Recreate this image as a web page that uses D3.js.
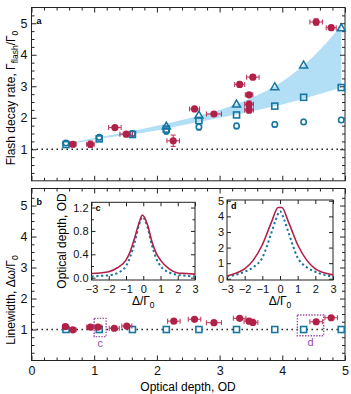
<!DOCTYPE html>
<html>
<head>
<meta charset="utf-8">
<script src="https://cdn.jsdelivr.net/npm/d3@7"></script>
<style>
  body { margin: 0; background: #fff; }
  svg { font-family: "Liberation Sans", Arial, sans-serif; }
</style>
</head>
<body>
<script>
const w = 351;
const h = 394;

const red = "rgb(178, 32, 72)";
const blue = "rgb(22, 118, 160)";
const band = "rgb(178, 222, 246)";
const purple = "rgb(150, 72, 165)";

// panel a: flash decay rate
const blueOD = [0.55, 1.08, 1.61, 2.15, 2.67, 3.27, 3.88, 4.34, 4.94];
const blueTri = [null, null, null, 1.74, 2.09, 2.44, 2.99, 3.68, 4.86];
const blueSq = [1.15, 1.33, 1.47, 1.64, 1.91, 2.09, 2.37, 2.65, 2.96];
const blueCirc = [1.2, 1.38, 1.5, 1.58, 1.71, 1.74, 1.79, 1.87, 1.93];
const blueCircErr = [0.06, 0.08, 0.08, 0.1, 0.1, 0.09, 0.08, 0.08, 0.08];

const redOD = [0.66, 0.94, 1.33, 1.51, 2.26, 2.6, 2.91, 3.32, 3.53, 3.47, 3.47, 3.47, 4.54, 4.78];
const redRate = [1.16, 1.16, 1.69, 1.48, 1.27, 2.28, 2.12, 3.06, 3.29, 2.73, 2.43, 2.25, 5.04, 4.86];
const redXErr = [0.05, 0.06, 0.1, 0.1, 0.1, 0.08, 0.12, 0.08, 0.1, 0.06, 0.07, 0.07, 0.1, 0.08];
const redYErr = [0.08, 0.1, 0.05, 0.05, 0.18, 0.08, 0.05, 0.08, 0.07, 0.05, 0.1, 0.1, 0.1, 0.04];

const bandOD = [0.55, 1.0, 1.5, 2.0, 2.5, 3.0, 3.5, 4.0, 4.5, 4.94];
const bandLow = [1.14, 1.3, 1.45, 1.6, 1.8, 2.0, 2.2, 2.42, 2.7, 2.95];
const bandHigh = [1.19, 1.36, 1.54, 1.75, 1.98, 2.25, 2.62, 3.15, 3.95, 4.92];

// panel b: linewidth
const lwBlue = [1, 1, 1, 1, 1, 1, 1, 1, 1];
const lwRedOD = [0.54, 0.66, 0.94, 1.06, 1.32, 1.52, 2.27, 2.6, 2.91, 3.32, 3.47, 3.53, 4.54, 4.78];
const lwRed = [1.09, 0.99, 1.08, 1.08, 1.04, 1.11, 1.27, 1.33, 1.22, 1.36, 1.27, 1.23, 1.25, 1.38];
const lwRedXErr = [0.04, 0.05, 0.06, 0.06, 0.08, 0.08, 0.1, 0.1, 0.12, 0.1, 0.08, 0.08, 0.1, 0.1];

// insets c and d
const cDelta = [-3, -2.5, -2, -1.5, -1, -0.75, -0.5, -0.25, -0.05, 0.25, 0.5, 0.75, 1, 1.5, 2, 2.5, 3];
const cMeasured = [0.07, 0.08, 0.1, 0.17, 0.3, 0.45, 0.68, 0.93, 1.07, 0.9, 0.62, 0.42, 0.3, 0.15, 0.08, 0.07, 0.06];
const cModel = [0.02, 0.03, 0.04, 0.08, 0.2, 0.36, 0.6, 0.9, 1.04, 0.86, 0.56, 0.33, 0.2, 0.09, 0.05, 0.03, 0.02];
const dDelta = [-3, -2.5, -2, -1.5, -1, -0.5, -0.1, 0.1, 0.5, 1, 1.5, 2, 2.5, 3];
const dMeasured = [0.18, 0.35, 0.63, 1.21, 2.18, 3.58, 4.57, 4.57, 3.58, 2.18, 1.21, 0.63, 0.38, 0.25];
const dModelDelta = [-3, -2.5, -2, -1.5, -1, -0.5, -0.25, 0, 0.25, 0.5, 1, 1.5, 2, 2.5, 3];
const dModel = [0.15, 0.25, 0.45, 0.75, 1.35, 2.9, 3.75, 4.33, 3.75, 2.9, 1.35, 0.75, 0.45, 0.25, 0.15];

const svg = d3.select("body").append("svg")
  .attr("width", w)
  .attr("height", h);

const x = d3.scaleLinear().domain([0, 5]).range([31.5, 345]);
const yA = d3.scaleLinear().domain([0, 5.5]).range([180.8, 7.5]);
const yB = d3.scaleLinear().domain([0, 5.55]).range([360.5, 188.5]);

// frame + inward ticks on four sides
function frame(g, xs, ys, o) {
  const [x0, x1] = xs.range();
  const [y0, y1] = ys.range();
  g.append("rect")
    .attr("x", x0).attr("y", y1)
    .attr("width", x1 - x0).attr("height", y0 - y1)
    .attr("fill", o.fill || "none");

  const sides = [
    [d3.axisBottom(xs), y0, o.xLabels],
    [d3.axisTop(xs), y1, false],
  ];
  sides.forEach(([ax, ty, lab], i) => {
    const a = g.append("g").attr("transform", "translate(0," + ty + ")");
    a.call(ax.tickValues(o.xMajor).tickSize(-o.major)
      .tickPadding(o.xpad || o.pad).tickFormat(lab ? (o.xFmt || d3.format("d")) : ""));
    if (o.xMinor) {
      const m = g.append("g").attr("transform", "translate(0," + ty + ")");
      m.call((i == 0 ? d3.axisBottom(xs) : d3.axisTop(xs)).tickValues(o.xMinor).tickSize(-o.minor).tickFormat(""));
      m.select(".domain").remove();
    }
    a.select(".domain").remove();
  });

  const ysides = [
    [d3.axisLeft(ys), x0, true],
    [d3.axisRight(ys), x1, false],
  ];
  ysides.forEach(([ax, tx, lab], i) => {
    const a = g.append("g").attr("transform", "translate(" + tx + ",0)");
    a.call(ax.tickValues(o.yMajor).tickSize(-o.major).tickPadding(o.pad)
      .tickFormat(lab ? (o.yFmt || d3.format("d")) : ""));
    a.select(".domain").remove();
    if (o.yMinor) {
      const m = g.append("g").attr("transform", "translate(" + tx + ",0)");
      m.call((i == 0 ? d3.axisLeft(ys) : d3.axisRight(ys)).tickValues(o.yMinor).tickSize(-o.minor).tickFormat(""));
      m.select(".domain").remove();
    }
  });

  g.selectAll(".tick line").attr("stroke", "#222");
  g.selectAll(".tick text").attr("fill", "#111")
    .style("font-size", o.fs + "px")
    .style("font-family", "Liberation Sans, Arial, sans-serif");

  g.append("rect")
    .attr("x", x0).attr("y", y1)
    .attr("width", x1 - x0).attr("height", y0 - y1)
    .attr("fill", "none").attr("stroke", "#222").attr("stroke-width", 1);
}

const xMinor = d3.range(0, 5.01, 0.2).filter(v => Math.abs(v - Math.round(v)) > 0.01);
const yMinor = d3.range(0.25, 5.5, 0.25).filter(v => Math.abs(v - Math.round(v)) > 0.01);

const gA = svg.append("g");
const gB = svg.append("g");

// panel a -----------------------------------------------------------
const bandData = bandOD.map((d, i) => ({ od: d, lo: bandLow[i], hi: bandHigh[i] }));
gA.append("path")
  .datum(bandData)
  .attr("fill", band)
  .attr("d", d3.area().x(d => x(d.od)).y0(d => yA(d.lo)).y1(d => yA(d.hi)).curve(d3.curveMonotoneX));

gA.append("line")
  .attr("x1", x(0)).attr("x2", x(5))
  .attr("y1", yA(1)).attr("y2", yA(1))
  .attr("stroke", "#111").attr("stroke-width", 1.6)
  .attr("stroke-dasharray", "1.4,3.6");

frame(gA, x, yA, {
  xMajor: [0, 1, 2, 3, 4, 5], xMinor: xMinor, xLabels: false,
  yMajor: [1, 2, 3, 4, 5], yMinor: yMinor,
  major: 5, minor: 3, pad: 4, fs: 12.5
});

function drawRed(g, ys, ods, vals, xe, ye) {
  const pts = ods.map((d, i) => ({ od: d, v: vals[i], xe: xe[i], ye: ye ? ye[i] : 0 }));
  const e = g.append("g").attr("stroke", red).attr("stroke-width", 1.1).attr("opacity", 0.85);
  pts.forEach(p => {
    e.append("line").attr("x1", x(p.od - p.xe)).attr("x2", x(p.od + p.xe))
      .attr("y1", ys(p.v)).attr("y2", ys(p.v));
    [p.od - p.xe, p.od + p.xe].forEach(c => {
      e.append("line").attr("x1", x(c)).attr("x2", x(c))
        .attr("y1", ys(p.v) - 2.5).attr("y2", ys(p.v) + 2.5);
    });
    if (p.ye > 0) {
      e.append("line").attr("x1", x(p.od)).attr("x2", x(p.od))
        .attr("y1", ys(p.v - p.ye)).attr("y2", ys(p.v + p.ye));
      [p.v - p.ye, p.v + p.ye].forEach(c => {
        e.append("line").attr("x1", x(p.od) - 2.5).attr("x2", x(p.od) + 2.5)
          .attr("y1", ys(c)).attr("y2", ys(c));
      });
    }
  });
  g.selectAll(null).data(pts).enter().append("circle")
    .attr("cx", d => x(d.od)).attr("cy", d => ys(d.v))
    .attr("r", 3.6).attr("fill", red);
}

// blue circles with error bars
const circData = blueOD.map((d, i) => ({ od: d, v: blueCirc[i], e: blueCircErr[i] }));
const ce = gA.append("g").attr("stroke", blue).attr("stroke-width", 1.1);
circData.forEach(p => {
  ce.append("line").attr("x1", x(p.od)).attr("x2", x(p.od))
    .attr("y1", yA(p.v - p.e)).attr("y2", yA(p.v + p.e));
  [p.v - p.e, p.v + p.e].forEach(c => {
    ce.append("line").attr("x1", x(p.od) - 2.2).attr("x2", x(p.od) + 2.2)
      .attr("y1", yA(c)).attr("y2", yA(c));
  });
});
gA.selectAll(".bc").data(circData).enter().append("circle")
  .attr("cx", d => x(d.od)).attr("cy", d => yA(d.v))
  .attr("r", 2.7).attr("fill", "white").attr("stroke", blue).attr("stroke-width", 1.6);

gA.selectAll(".bs").data(blueOD.map((d, i) => ({ od: d, v: blueSq[i] }))).enter().append("rect")
  .attr("x", d => x(d.od) - 3).attr("y", d => yA(d.v) - 3)
  .attr("width", 6).attr("height", 6)
  .attr("fill", "none").attr("stroke", blue).attr("stroke-width", 1.6);

const triSym = d3.symbol().type(d3.symbolTriangle).size(28);
gA.selectAll(".bt").data(blueOD.map((d, i) => ({ od: d, v: blueTri[i] })).filter(d => d.v != null))
  .enter().append("path")
  .attr("transform", d => "translate(" + x(d.od) + "," + (yA(d.v) + 0.8) + ")")
  .attr("d", triSym)
  .attr("fill", "none").attr("stroke", blue).attr("stroke-width", 1.5);

drawRed(gA, yA, redOD, redRate, redXErr, redYErr);

gA.append("text").attr("x", 36.5).attr("y", 24).text("a")
  .style("font-size", "9px").style("font-weight", "bold");

gA.append("text")
  .attr("transform", "translate(15,98) rotate(-90)")
  .attr("text-anchor", "middle")
  .style("font-size", "12px")
  .call(t => {
    t.append("tspan").text("Flash decay rate, Γ");
    t.append("tspan").attr("dy", 3).style("font-size", "8.5px").text("flash");
    t.append("tspan").attr("dy", -3).text("/Γ");
    t.append("tspan").attr("dy", 3).style("font-size", "8.5px").text("0");
  });

// panel b -----------------------------------------------------------
gB.append("line")
  .attr("x1", x(0)).attr("x2", x(5))
  .attr("y1", yB(1)).attr("y2", yB(1))
  .attr("stroke", "#111").attr("stroke-width", 1.6)
  .attr("stroke-dasharray", "1.4,3.6");

frame(gB, x, yB, {
  xMajor: [0, 1, 2, 3, 4, 5], xMinor: xMinor, xLabels: true,
  yMajor: [1, 2, 3, 4, 5], yMinor: yMinor,
  major: 5, minor: 3, pad: 4, xpad: 6, fs: 12.5
});

gB.selectAll(".ls").data(blueOD.map((d, i) => ({ od: d, v: lwBlue[i] }))).enter().append("rect")
  .attr("x", d => x(d.od) - 3).attr("y", d => yB(d.v) - 3)
  .attr("width", 6).attr("height", 6)
  .attr("fill", "white").attr("stroke", blue).attr("stroke-width", 1.6);

drawRed(gB, yB, lwRedOD, lwRed, lwRedXErr, null);

// dotted selection boxes
const boxes = [
  { od0: 1.0, od1: 1.19, v0: 0.77, v1: 1.36, lab: "c" },
  { od0: 4.24, od1: 4.66, v0: 0.8, v1: 1.47, lab: "d" },
];
boxes.forEach(b => {
  gB.append("rect")
    .attr("x", x(b.od0)).attr("y", yB(b.v1))
    .attr("width", x(b.od1) - x(b.od0)).attr("height", yB(b.v0) - yB(b.v1))
    .attr("fill", "none").attr("stroke", purple).attr("stroke-width", 1.4)
    .attr("stroke-dasharray", "1.4,1.4");
  gB.append("text")
    .attr("x", (x(b.od0) + x(b.od1)) / 2).attr("y", yB(b.v0) + 10)
    .attr("text-anchor", "middle").attr("fill", purple)
    .style("font-size", "11px").text(b.lab);
});

gB.append("text").attr("x", 36.5).attr("y", 205).text("b")
  .style("font-size", "9px").style("font-weight", "bold");

gB.append("text")
  .attr("transform", "translate(15,300) rotate(-90)")
  .attr("text-anchor", "middle")
  .style("font-size", "12px")
  .call(t => {
    t.append("tspan").text("Linewidth, Δω/Γ");
    t.append("tspan").attr("dy", 3).style("font-size", "8.5px").text("0");
  });

gB.append("text")
  .attr("x", 188).attr("y", 391)
  .attr("text-anchor", "middle")
  .style("font-size", "12px")
  .text("Optical depth, OD");

// insets ------------------------------------------------------------
function inset(xr, yd, yr, deltaM, meas, deltaT, model, yTicks, yMin, yFmt, lab) {
  const xs = d3.scaleLinear().domain([-3, 3]).range(xr);
  const ys = d3.scaleLinear().domain(yd).range(yr);
  const g = svg.append("g");
  frame(g, xs, ys, {
    xMajor: [-3, -2, -1, 0, 1, 2, 3], xLabels: true,
    xFmt: d => (d < 0 ? "\u2212" + (-d) : "" + d),
    yMajor: yTicks, yMinor: yMin, yFmt: yFmt,
    major: 4, minor: 2.5, pad: 3, xpad: 5, fs: 11, fill: "white"
  });
  g.append("path")
    .datum(deltaT.map((d, i) => [d, model[i]]))
    .attr("fill", "none").attr("stroke", blue).attr("stroke-width", 2)
    .attr("stroke-dasharray", "2.2,2.6")
    .attr("d", d3.line().x(d => xs(d[0])).y(d => ys(d[1])).curve(d3.curveMonotoneX));
  g.append("path")
    .datum(deltaM.map((d, i) => [d, meas[i]]))
    .attr("fill", "none").attr("stroke", red).attr("stroke-width", 1.6)
    .attr("d", d3.line().x(d => xs(d[0])).y(d => ys(d[1])).curve(d3.curveMonotoneX));
  g.append("text").attr("x", xr[0] + 4).attr("y", yr[1] + 9).text(lab)
    .style("font-size", "9px").style("font-weight", "bold");
  g.append("text")
    .attr("x", (xr[0] + xr[1]) / 2).attr("y", 305)
    .attr("text-anchor", "middle")
    .style("font-size", "12px")
    .call(t => {
      t.append("tspan").text("Δ/Γ");
      t.append("tspan").attr("dy", 3).style("font-size", "8.5px").text("0");
    });
}

inset([91.5, 195], [-0.04, 1.29], [280, 202.3], cDelta, cMeasured, cDelta, cModel,
  [0, 0.4, 0.8, 1.2], [0.2, 0.6, 1.0], d3.format(".1f"), "c");
inset([227, 333], [-0.08, 5.05], [280, 200], dDelta, dMeasured, dModelDelta, dModel,
  [0, 1, 2, 3, 4, 5], null, d3.format("d"), "d");

svg.append("text")
  .attr("transform", "translate(66,241) rotate(-90)")
  .attr("text-anchor", "middle")
  .style("font-size", "12px")
  .text("Optical depth, OD");
</script>
</body>
</html>
